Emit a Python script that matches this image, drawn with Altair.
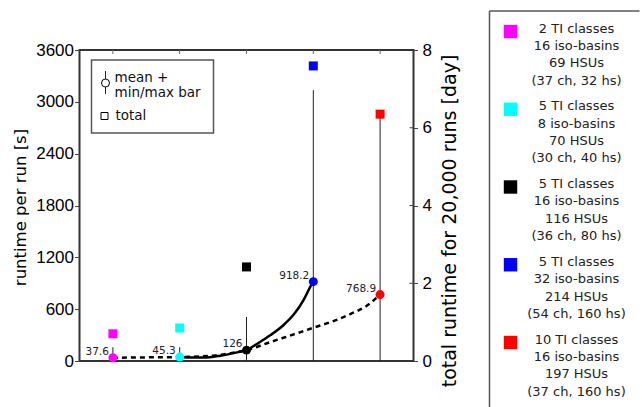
import altair as alt
import pandas as pd

# ---- data ----
position = [1, 2, 3, 4, 5]
colors = ["#ff00ff", "#00ffff", "#000000", "#0000ff", "#ff0000"]
mean_s = [37.6, 45.3, 126, 918.2, 768.9]
mean_labels = ["37.6", "45.3", "126", "918.2", "768.9"]
min_s = [0, 0, 0, 0, 0]
max_s = [160, 160, 510, 3135, 2850]
total_days = [0.70, 0.85, 2.42, 7.59, 6.35]

ti_classes = ["2 TI classes", "5 TI classes", "5 TI classes", "5 TI classes", "10 TI classes"]
iso_basins = ["16 iso-basins", "8 iso-basins", "16 iso-basins", "32 iso-basins", "16 iso-basins"]
hsus = ["69 HSUs", "70 HSUs", "116 HSUs", "214 HSUs", "197 HSUs"]
ch_hs = ["(37 ch, 32 hs)", "(30 ch, 40 hs)", "(36 ch, 80   hs)", "(54 ch, 160 hs)", "(37 ch, 160 hs)"]

# fitted curves
solid_pos = [2.0, 2.17, 2.36, 2.61, 2.86, 3.0, 3.16, 3.36, 3.56, 3.71, 3.86, 3.96, 4.0]
solid_s = [45.3, 40, 40, 62, 100, 126, 200, 300, 420, 540, 714, 868, 918.2]
dash_pos = [1.0, 1.5, 2.0, 2.5, 2.8, 3.0, 3.36, 3.81, 4.0, 4.31, 4.56, 4.81, 5.0]
dash_s = [37.6, 42, 45.3, 62, 95, 126, 220, 335, 385, 465, 545, 645, 768.9]

left_ticks = [0, 600, 1200, 1800, 2400, 3000, 3600]
right_ticks = [0, 2, 4, 6, 8]
right_inner_ticks = [2, 4, 6]
inner_legend = ["mean +", "min/max bar", "total"]

W, H = 334, 311

df = pd.DataFrame({
    "pos": position, "v": mean_s, "lab": mean_labels,
    "vmin": min_s, "vmax": max_s, "d": total_days,
})
solid_df = pd.DataFrame({"pos": solid_pos, "v": solid_s})
dash_df = pd.DataFrame({"pos": dash_pos, "v": dash_s})
one = pd.DataFrame({"k": [0]})

xs = alt.Scale(domain=[0.5, 5.5], nice=False, zero=False)
xenc = alt.X("pos:Q", scale=xs, axis=None)
col = alt.Color("pos:O", scale=alt.Scale(domain=position, range=colors), legend=None)

left_axis = alt.Axis(
    values=left_ticks, format="d", orient="left", title="runtime per run [s]", grid=False,
    domain=False, tickSize=5, tickColor="#444", labelPadding=1,
    labelFont="Liberation Sans", labelFontSize=17, labelColor="black",
    titleFont="DejaVu Sans", titleFontSize=16.5, titleFontWeight="normal",
    titleColor="black", titleX=-59.5, titleY=157, titleAngle=270,
    titleBaseline="middle", titleAlign="center",
)
yl_scale = alt.Scale(domain=[0, 3600], nice=False)
yl = alt.Y("v:Q", scale=yl_scale, axis=left_axis)

right_axis = alt.Axis(
    values=right_ticks, format="d", orient="right", title="total runtime for 20,000 runs [day]",
    grid=False, domain=False, tickSize=4, tickColor="#444", labelPadding=4.5,
    labelFont="Liberation Sans", labelFontSize=17, labelColor="black",
    titleFont="DejaVu Sans", titleFontSize=19, titleFontWeight="normal",
    titleColor="black", titleX=35.5, titleY=170.5, titleAngle=270,
    titleBaseline="middle", titleAlign="center",
)
yr_scale = alt.Scale(domain=[0, 8], nice=False)
yr = alt.Y("d:Q", scale=yr_scale, axis=right_axis)

base = alt.Chart(df)

bars = base.mark_rule(color="#222", strokeWidth=1).encode(
    x=xenc, y=alt.Y("vmin:Q", scale=yl_scale, axis=left_axis), y2="vmax:Q"
)
solid = alt.Chart(solid_df).mark_line(
    color="black", strokeWidth=2.5, interpolate="monotone"
).encode(x=xenc, y=yl)
dashed = alt.Chart(dash_df).mark_line(
    color="black", strokeWidth=2.5, strokeDash=[5, 4], interpolate="monotone"
).encode(x=xenc, y=yl)
points = base.mark_circle(size=80, opacity=1).encode(x=xenc, y=yl, color=col)
labels = base.mark_text(
    align="right", baseline="alphabetic", dx=-4, dy=-3,
    font="DejaVu Sans", fontSize=10.5, color="#222",
).encode(x=xenc, y=yl, text="lab:N")
top_ticks = base.mark_rule(color="#666", strokeWidth=1).encode(
    x=xenc, y=alt.value(0), y2=alt.value(4)
)

# inner legend (mean + bar, total)
leg_box = alt.Chart(one).mark_rect(fill="white", stroke="#555", strokeWidth=1.5).encode(
    x=alt.value(12), x2=alt.value(134), y=alt.value(10), y2=alt.value(83)
)
leg_bar = alt.Chart(one).mark_rule(color="#222", strokeWidth=1).encode(
    x=alt.value(26), y=alt.value(21), y2=alt.value(44)
)
leg_circ = alt.Chart(one).mark_point(
    shape="circle", size=64, filled=True, fill="white", stroke="black", strokeWidth=1, opacity=1
).encode(x=alt.value(26), y=alt.value(33))
leg_sq = alt.Chart(one).mark_point(
    shape="square", size=49, filled=True, fill="white", stroke="black", strokeWidth=1, opacity=1
).encode(x=alt.value(25), y=alt.value(66))
txt_kw = dict(align="left", baseline="middle", font="DejaVu Sans", fontSize=13.5, color="#111")
leg_t1 = alt.Chart(one).mark_text(text=inner_legend[0], **txt_kw).encode(x=alt.value(35), y=alt.value(27.5))
leg_t2 = alt.Chart(one).mark_text(text=inner_legend[1], **txt_kw).encode(x=alt.value(35), y=alt.value(43))
leg_t3 = alt.Chart(one).mark_text(text=inner_legend[2], **txt_kw).encode(x=alt.value(36), y=alt.value(66))

left_group = alt.layer(
    top_ticks, bars, solid, dashed, points, labels,
    leg_box, leg_bar, leg_circ, leg_sq, leg_t1, leg_t2, leg_t3,
)

squares = base.mark_square(size=81, opacity=1).encode(x=xenc, y=yr, color=col)
inner_r = alt.Chart(pd.DataFrame({"d": right_inner_ticks})).mark_rule(
    color="#444", strokeWidth=1
).encode(y=yr, x=alt.value(W - 4), x2=alt.value(W))
right_group = alt.layer(squares, inner_r)

main = alt.layer(left_group, right_group).resolve_scale(y="independent").properties(
    width=W, height=H,
)

# right legend panel (its box starts 39 px above the plot's top edge)
UP = 39
LW, LH = 150, 358
leg_df = pd.DataFrame({
    "pos": position,
    "txt": ["\n".join(t) for t in zip(ti_classes, iso_basins, hsus, ch_hs)],
})
yleg = alt.Y("pos:O", scale=alt.Scale(type="point", range=[11.5 - UP, 322.5 - UP], padding=0), axis=None)
lg_sq = alt.Chart(leg_df).mark_square(size=180, opacity=1).encode(
    x=alt.value(21), y=yleg, yOffset=alt.value(9), color=col
)
lg_txt = alt.Chart(leg_df).mark_text(
    align="center", baseline="top", lineBreak="\n", lineHeight=17.4,
    font="DejaVu Sans", fontSize=13, color="#222",
).encode(x=alt.value(87), y=yleg, text="txt:N")
lg_top = alt.Chart(one).mark_rule(color="#555", strokeWidth=1.5).encode(
    x=alt.value(0), x2=alt.value(LW), y=alt.value(-UP)
)
lg_left = alt.Chart(one).mark_rule(color="#555", strokeWidth=1.5).encode(
    x=alt.value(0), y=alt.value(-UP), y2=alt.value(LH)
)
legend_panel = alt.layer(lg_top, lg_left, lg_sq, lg_txt).properties(
    width=LW, height=LH, view=alt.ViewBackground(stroke="transparent")
)

chart = alt.hconcat(main, legend_panel, spacing=27).properties(
    padding={"left": 10.5, "top": 9, "right": 0, "bottom": 0},
    background="white",
).configure_view(stroke="#333", strokeWidth=2)

chart.save("out.html", embed_options={"renderer": "svg", "actions": False})
